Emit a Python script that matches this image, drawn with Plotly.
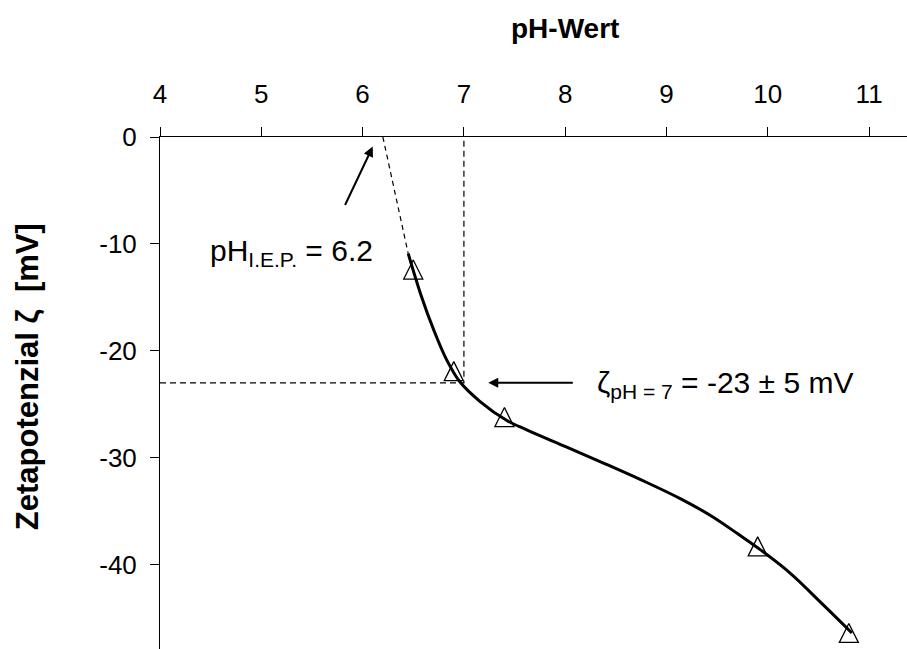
import plotly.graph_objects as go

# Measured zeta potential vs. pH
meas_ph = [6.50, 6.90, 7.40, 9.90, 10.80]
meas_zeta = [-12.4, -21.9, -26.2, -38.3, -46.4]

# Smoothed trend line through the measurements
curve_ph = [6.45, 6.58, 6.70, 6.83, 6.96, 7.16, 7.42, 7.62, 8.01, 8.40, 8.80, 9.15, 9.45, 9.70, 9.91, 10.22, 10.55, 10.83]
curve_zeta = [-10.9, -14.9, -18.0, -20.85, -22.9, -24.75, -26.5, -27.4, -29.0, -30.6, -32.3, -33.9, -35.5, -37.1, -38.5, -40.8, -43.8, -46.4]

# Characteristic values
IEP_PH = 6.2
PH_REF = 7
ZETA_REF = -23
ZETA_ERR = 5

# Pointer arrows (tail -> head)
iep_arrow_ph = [5.82, 6.10]
iep_arrow_zeta = [-6.5, -0.9]
ref_arrow_ph = [8.09, 7.24]

x_ticks = [4, 5, 6, 7, 8, 9, 10, 11]
y_ticks = [0, -10, -20, -30, -40]

FONT = "Liberation Sans, Arial, sans-serif"

fig = go.Figure()

# guide lines at pH 7
fig.add_trace(go.Scatter(
    x=[x_ticks[0], PH_REF, PH_REF], y=[ZETA_REF, ZETA_REF, 0],
    mode="lines", line=dict(color="black", width=1.2, dash="6px,4px"),
    hoverinfo="skip", showlegend=False))

# extrapolation to the isoelectric point
fig.add_trace(go.Scatter(
    x=[IEP_PH, curve_ph[0]], y=[0, curve_zeta[0]],
    mode="lines", line=dict(color="black", width=1.2, dash="5px,4px"),
    hoverinfo="skip", showlegend=False))

# trend line
fig.add_trace(go.Scatter(
    x=curve_ph, y=curve_zeta, mode="lines",
    line=dict(color="black", width=3, shape="spline", smoothing=1.0),
    hoverinfo="skip", showlegend=False))

# measurements (open triangles, centred on the point)
fig.add_trace(go.Scatter(
    x=meas_ph, y=meas_zeta, mode="markers",
    marker=dict(symbol="arrow-down-open", angle=180, standoff=9.5, size=19,
                color="black", line=dict(color="black", width=1.3)),
    showlegend=False))

annotations = [
    # axis titles
    dict(text="<b>pH-Wert</b>", x=8, xref="x", y=1.212, yref="paper",
         xanchor="center", yanchor="middle", showarrow=False,
         font=dict(family=FONT, size=28, color="black")),
    dict(text="<b>Zetapotenzial \u03b6  [mV]</b>", x=-0.177, xref="paper", y=-22.4, yref="y",
         xanchor="center", yanchor="middle", textangle=-90, showarrow=False,
         font=dict(family=FONT, size=31, color="black")),
    # labels
    dict(text=f"pH<sub>I.E.P.</sub> = {IEP_PH}", x=4.47, xref="x", y=-10.8, yref="y",
         xanchor="left", yanchor="middle", showarrow=False,
         font=dict(family=FONT, size=30, color="black")),
    dict(text=f"\u03b6<sub>pH = {PH_REF}</sub> = {ZETA_REF} \u00b1 {ZETA_ERR} mV", x=8.29, xref="x", y=-23.2, yref="y",
         xanchor="left", yanchor="middle", showarrow=False,
         font=dict(family=FONT, size=30, color="black")),
    # pointer arrows
    dict(text="", x=iep_arrow_ph[1], y=iep_arrow_zeta[1], xref="x", yref="y",
         ax=iep_arrow_ph[0], ay=iep_arrow_zeta[0], axref="x", ayref="y",
         showarrow=True, arrowhead=2, arrowsize=1, arrowwidth=2, arrowcolor="black", standoff=0),
    dict(text="", x=ref_arrow_ph[1], y=ZETA_REF, xref="x", yref="y",
         ax=ref_arrow_ph[0], ay=ZETA_REF, axref="x", ayref="y",
         showarrow=True, arrowhead=2, arrowsize=1, arrowwidth=2, arrowcolor="black", standoff=0),
]

fig.update_layout(
    width=907, height=649,
    margin=dict(l=160, r=0, t=137, b=0),
    paper_bgcolor="white", plot_bgcolor="white",
    font=dict(family=FONT, size=26, color="black"),
    annotations=annotations,
    xaxis=dict(side="top", range=[4, 11.374], tickvals=x_ticks, ticktext=[str(v) for v in x_ticks],
               ticks="outside", ticklen=9, tickwidth=1, tickcolor="black",
               showline=True, linecolor="black", linewidth=1,
               showgrid=False, zeroline=False, ticklabelstandoff=14,
               tickfont=dict(family=FONT, size=26, color="black")),
    yaxis=dict(range=[-47.9, 0], tickvals=y_ticks, ticktext=[str(v) for v in y_ticks],
               ticks="outside", ticklen=9, tickwidth=1, tickcolor="black",
               showline=True, linecolor="black", linewidth=1,
               showgrid=False, zeroline=False, ticklabelstandoff=8,
               tickfont=dict(family=FONT, size=26, color="black")),
)

fig.write_html("out.html")
